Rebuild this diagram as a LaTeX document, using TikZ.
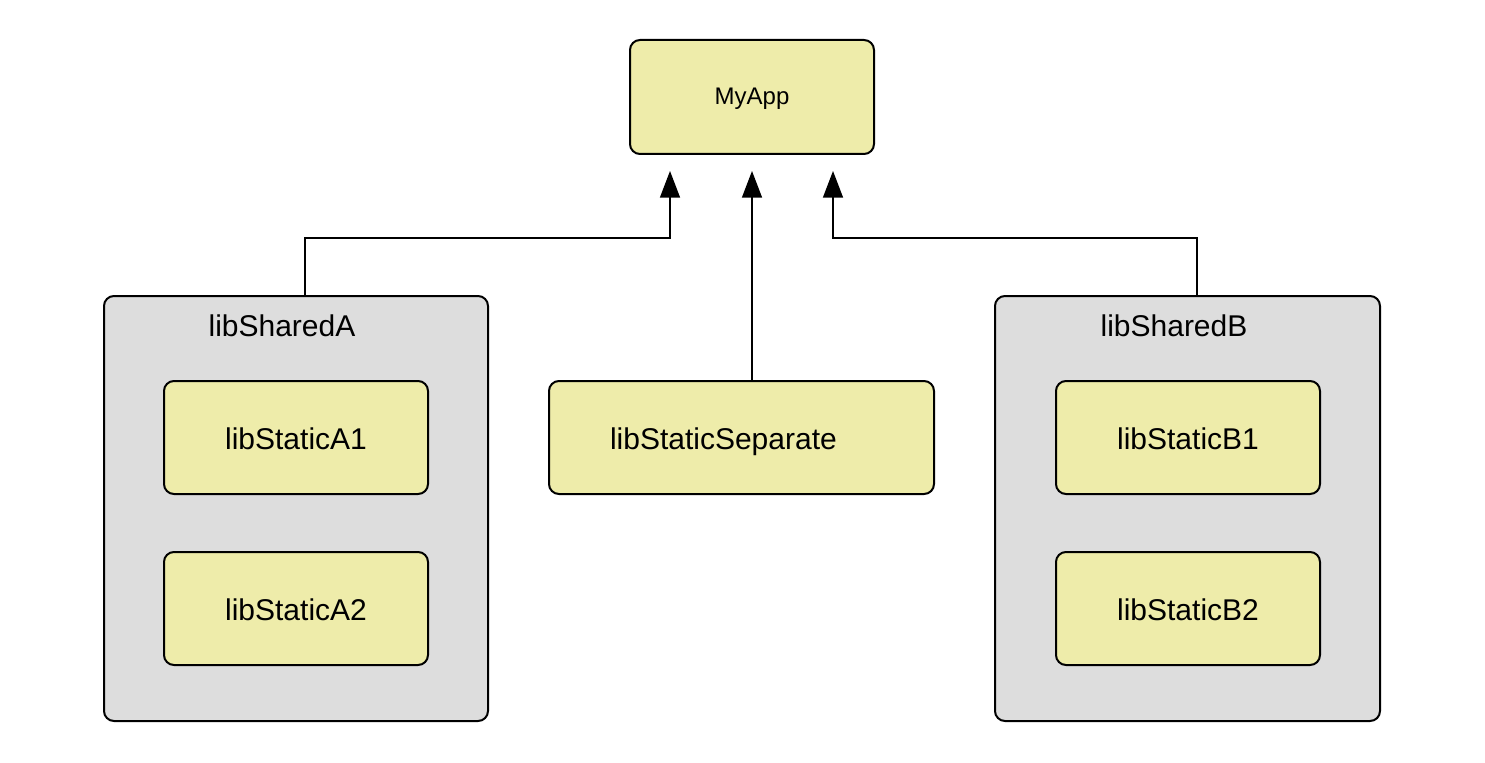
\documentclass[tikz,border=0pt]{standalone}
\usepackage{fontspec}
\setmainfont{Liberation Sans}
\usetikzlibrary{arrows.meta}
\definecolor{libyellow}{RGB}{238,236,170}
\definecolor{libgray}{RGB}{221,221,221}
\tikzset{
  libbox/.style={draw, line width=1.5pt, rounded corners=7.5pt, fill=libyellow, inner sep=0pt, text height=19pt, text depth=1pt, font=\fontsize{22.5}{27}\selectfont},
  sharedbox/.style={draw, line width=1.5pt, rounded corners=7.5pt, fill=libgray, inner sep=0pt},
  link/.style={line width=1.1pt, -{Triangle[width=15pt,length=20pt]}}
}
\begin{document}
\begin{tikzpicture}[x=0.75pt,y=0.75pt,yscale=-1,xscale=1]
\path (0,0) rectangle (1485,763); %set diagram size

%Shape: Rounded Rect [id:app]
\node[libbox, minimum width=183pt, minimum height=85.5pt, text height=13pt, text depth=2.3pt, font=\fontsize{18}{22}\selectfont] (app) at (752,97) {MyApp};

%Shape: Rounded Rect [id:shA]
\node[sharedbox, minimum width=288pt, minimum height=318.75pt] (shA) at (296,508.5) {};
% Text Node
\node[font=\fontsize{22.5}{27}\selectfont] (shAlabel) at (282,326) {libSharedA};
%Shape: Rounded Rect [id:stA1]
\node[libbox, minimum width=198pt, minimum height=84.75pt] (stA1) at (296,437.5) {libStaticA1};
%Shape: Rounded Rect [id:stA2]
\node[libbox, minimum width=198pt, minimum height=84.75pt] (stA2) at (296,608.5) {libStaticA2};

%Shape: Rounded Rect [id:sep]
\node[libbox, minimum width=288.75pt, minimum height=84.75pt, inner xsep=45.75pt, text width=197.25pt, align=left] (sep) at (741.5,437.5) {libStaticSeparate};

%Shape: Rounded Rect [id:shB]
\node[sharedbox, minimum width=288.75pt, minimum height=318.75pt] (shB) at (1187.5,508.5) {};
% Text Node
\node[font=\fontsize{22.5}{27}\selectfont] (shBlabel) at (1174,326) {libSharedB};
%Shape: Rounded Rect [id:stB1]
\node[libbox, minimum width=198pt, minimum height=84.75pt] (stB1) at (1188,437.5) {libStaticB1};
%Shape: Rounded Rect [id:stB2]
\node[libbox, minimum width=198pt, minimum height=84.75pt] (stB2) at (1188,608.5) {libStaticB2};

%Arrow ends below MyApp
\coordinate (inA) at ([xshift=-61.5pt,yshift=12pt]app.south);
\coordinate (inS) at ([yshift=12pt]app.south);
\coordinate (inB) at ([xshift=60.75pt,yshift=12pt]app.south);

%Connectors
\draw[link] ([xshift=6.75pt]shA.north) -- ++(0,-57) -| (inA);
\draw[link] (sep.north -| inS) -- (inS);
\draw[link] ([xshift=7.1pt]shB.north) -- ++(0,-57) -| (inB);

\end{tikzpicture}
\end{document}
